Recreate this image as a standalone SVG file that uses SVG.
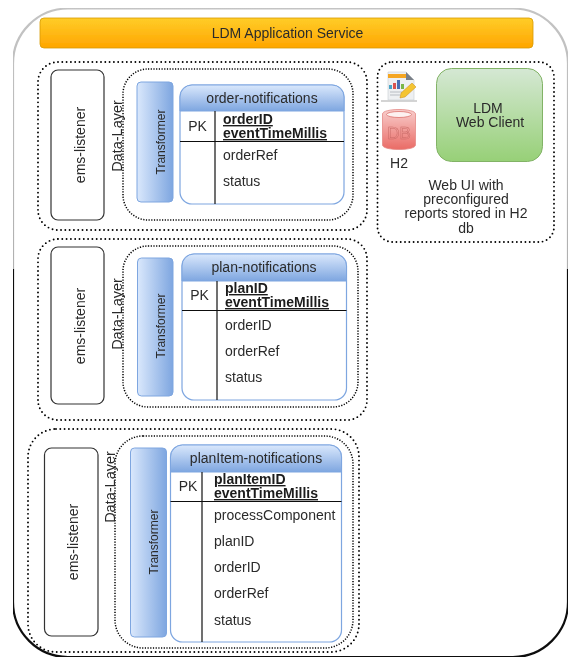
<svg xmlns="http://www.w3.org/2000/svg" width="574" height="663" viewBox="0 0 574 663">
<style>
text{font-family:"Liberation Sans",Arial,sans-serif;font-size:14px;fill:#2b2b2b}
.c{text-anchor:middle}
.b{font-weight:bold;text-decoration:underline;fill:#1c1c1c}
.dl{font-size:14.500px}
.t{font-size:12px}
.od{fill:none;stroke:#000;stroke-width:1.900;stroke-dasharray:0 4.300;stroke-linecap:round}
.id{fill:none;stroke:#000;stroke-width:1.500;stroke-dasharray:1.200 1.500}
.ems{fill:#fff;stroke:#333;stroke-width:1.200}
.tr{fill:url(#blueH);stroke:#7ea6e0;stroke-width:1}
.tb{fill:#fff;stroke:#7ea6e0;stroke-width:1.200}
.th{fill:url(#blueV);stroke:#7ea6e0;stroke-width:1}
.ln{stroke:#111;stroke-width:1.200;fill:none}
</style>
<defs>
<filter id="soft" x="0" y="0" width="100%" height="100%"><feGaussianBlur stdDeviation=".35"/></filter>
<linearGradient id="border" gradientUnits="userSpaceOnUse" x1="0" y1="0" x2="0" y2="663"><stop offset="0" stop-color="#c4c4c4"/><stop offset=".405" stop-color="#b0b0b0"/><stop offset=".406" stop-color="#111"/><stop offset="1" stop-color="#111"/></linearGradient>
<linearGradient id="orange" x1="0" y1="0" x2="0" y2="1"><stop offset="0" stop-color="#ffcd28"/><stop offset="1" stop-color="#ffa500"/></linearGradient>
<linearGradient id="green" x1="0" y1="0" x2="0" y2="1"><stop offset="0" stop-color="#d5e8d4"/><stop offset="1" stop-color="#97d077"/></linearGradient>
<linearGradient id="blueH" x1="0" y1="0" x2="1" y2="0"><stop offset="0" stop-color="#dae8fc"/><stop offset="1" stop-color="#7ea6e0"/></linearGradient>
<linearGradient id="blueV" x1="0" y1="0" x2="0" y2="1"><stop offset="0" stop-color="#dae8fc"/><stop offset="1" stop-color="#7ea6e0"/></linearGradient>
<linearGradient id="red" x1="0" y1="0" x2="0" y2="1"><stop offset="0" stop-color="#f8cecc"/><stop offset="1" stop-color="#ea6b66"/></linearGradient>
</defs>
<rect width="574" height="663" fill="#fff"/>
<g filter="url(#soft)">
<g id="frame"><rect x="13" y="8.500" width="555" height="648.500" rx="55" fill="#fff" stroke="url(#border)" stroke-width="2.200"/></g>
<g id="app-service"><rect x="40" y="18" width="493" height="30" rx="4" fill="url(#orange)" stroke="#d79b00" stroke-width=".8"/><text class="c" x="287.500" y="38">LDM Application Service</text></g>

<g id="order-group">
<rect class="od" x="38" y="62" width="329" height="168" rx="20"/>
<rect class="id" x="123" y="69" width="230" height="151" rx="25"/>
<g id="ems-1"><rect class="ems" x="51" y="70" width="53" height="150" rx="7"/><text class="c" transform="translate(85 145) rotate(-90)">ems-listener</text></g>
<text class="c dl" transform="translate(122 136) rotate(-90)">Data-Layer</text>
<g id="transformer-1"><rect class="tr" x="137" y="82" width="36" height="120" rx="4"/><text class="c t" transform="translate(165 142) rotate(-90)">Transformer</text></g>
<g id="order-notifications">
<rect class="tb" x="180" y="85" width="164" height="119" rx="12"/>
<path class="th" d="M180 111V97a12 12 0 0 1 12-12h140a12 12 0 0 1 12 12v14z"/>
<path class="ln" d="M180 141.500H344M215 111V204"/>
<text class="c" x="262" y="103">order-notifications</text>
<text class="c" x="197.500" y="131">PK</text>
<text class="b"><tspan x="223" y="124">orderID</tspan><tspan x="223" y="138">eventTimeMillis</tspan></text>
<text x="223" y="160">orderRef</text><text x="223" y="186">status</text>
</g>
</g>

<g id="plan-group">
<rect class="od" x="38" y="239" width="329" height="181" rx="20"/>
<rect class="id" x="123" y="246" width="235" height="161" rx="25"/>
<g id="ems-2"><rect class="ems" x="51" y="247" width="53" height="157" rx="7"/><text class="c" transform="translate(85 326) rotate(-90)">ems-listener</text></g>
<text class="c dl" transform="translate(122 314) rotate(-90)">Data-Layer</text>
<g id="transformer-2"><rect class="tr" x="137.500" y="258" width="35.500" height="138" rx="4"/><text class="c t" transform="translate(165 326) rotate(-90)">Transformer</text></g>
<g id="plan-notifications">
<rect class="tb" x="182" y="254" width="164.500" height="146" rx="12"/>
<path class="th" d="M182 281V266a12 12 0 0 1 12-12h140.500a12 12 0 0 1 12 12v15z"/>
<path class="ln" d="M182 310.500H346.500M217 281V400"/>
<text class="c" x="264" y="272">plan-notifications</text>
<text class="c" x="199.500" y="300">PK</text>
<text class="b"><tspan x="225" y="293">planID</tspan><tspan x="225" y="307">eventTimeMillis</tspan></text>
<text x="225" y="330">orderID</text><text x="225" y="356">orderRef</text><text x="225" y="382">status</text>
</g>
</g>

<g id="planitem-group">
<rect class="od" x="28" y="429" width="331" height="223" rx="28"/>
<rect class="id" x="115" y="436" width="238" height="212" rx="28"/>
<g id="ems-3"><rect class="ems" x="44.500" y="448" width="53.500" height="188" rx="7"/><text class="c" transform="translate(78 542) rotate(-90)">ems-listener</text></g>
<text class="c dl" transform="translate(115 487) rotate(-90)">Data-Layer</text>
<g id="transformer-3"><rect class="tr" x="130.500" y="448" width="36" height="189" rx="4"/><text class="c t" transform="translate(158 542) rotate(-90)">Transformer</text></g>
<g id="planitem-notifications">
<rect class="tb" x="170.500" y="445" width="171" height="197" rx="12"/>
<path class="th" d="M170.500 472V457a12 12 0 0 1 12-12h147a12 12 0 0 1 12 12v15z"/>
<path class="ln" d="M170.500 501.500H341.500M202 472V642"/>
<text class="c" x="256" y="463">planItem-notifications</text>
<text class="c" x="188" y="491">PK</text>
<text class="b"><tspan x="214" y="484">planItemID</tspan><tspan x="214" y="498">eventTimeMillis</tspan></text>
<text x="214" y="520">processComponent</text><text x="214" y="546">planID</text><text x="214" y="572">orderID</text><text x="214" y="598">orderRef</text><text x="214" y="625">status</text>
</g>
</g>

<g id="web-group">
<rect class="od" x="377.500" y="62" width="176.500" height="180" rx="15"/>
<g id="report-icon">
<rect x="381" y="100" width="36" height="2" fill="#d4d4d4"/>
<path d="M388 72H406L414 80V100H388z" fill="#eef0f2" stroke="#c8ccd0" stroke-width=".6"/>
<rect x="388" y="74" width="20" height="4" fill="#f5a623"/>
<path d="M406 72L414 80H406z" fill="#7a8088"/>
<rect x="389" y="85" width="3" height="4" fill="#4aa5c8"/><rect x="393" y="83" width="3" height="6" fill="#d9534f"/><rect x="397" y="80" width="3" height="9" fill="#4a6fb5"/><rect x="401" y="84" width="3" height="5" fill="#7ab648"/>
<path d="M390 92H402M390 95H400" stroke="#b8bcc2" stroke-width="1.200"/>
<path d="M401 93L412 83L416 87L405 97L400 98z" fill="#f4c430" stroke="#c98a1b" stroke-width=".5"/>
</g>
<g id="h2-db">
<path d="M382.500 114c0-6 33-6 33 0V145c0 6-33 6-33 0z" fill="url(#red)" stroke="#e58a86" stroke-width=".8"/>
<ellipse cx="399" cy="114.500" rx="12.500" ry="3" fill="#fdf1f0" stroke="#d9645f" stroke-width=".7"/>
<text class="c" x="399" y="139" style="font-size:17px;fill:none;stroke:#c96a66;stroke-width:.5">DB</text>
<text class="c" x="399" y="168">H2</text>
</g>
<g id="web-client"><rect x="436.500" y="68.500" width="106" height="93" rx="15" fill="url(#green)" stroke="#82b366"/><text class="c"><tspan x="488" y="113">LDM</tspan><tspan x="490" y="127">Web Client</tspan></text></g>
<text class="c"><tspan x="466" y="190">Web UI with</tspan><tspan x="466" y="204">preconfigured</tspan><tspan x="466" y="218">reports stored in H2</tspan><tspan x="466" y="233">db</tspan></text>
</g>
</g>
<g id="connectors"/>
</svg>
